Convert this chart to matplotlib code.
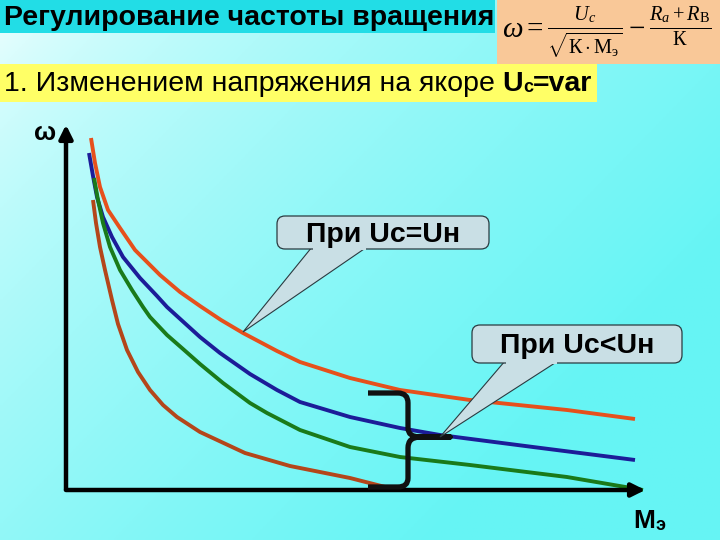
import numpy as np
import matplotlib
matplotlib.use("Agg")
import matplotlib.pyplot as plt
from matplotlib.patches import Rectangle, FancyBboxPatch, Polygon, PathPatch
from matplotlib.path import Path

plt.rcParams['font.family'] = ['Liberation Sans', 'DejaVu Sans']
plt.rcParams['mathtext.fontset'] = 'custom'
plt.rcParams['mathtext.rm'] = 'Liberation Serif'
plt.rcParams['mathtext.it'] = 'Liberation Serif:italic'

# --- данные (условные единицы: M - момент, w - скорость) ---
m_red = [25, 29, 34, 42, 54, 69, 94, 114, 134, 155, 177, 211, 234, 284, 334, 404, 501, 569]
w_red = [352, 327, 303, 280, 262, 240, 215, 198, 184, 170, 157, 139, 128, 112, 100, 90, 80, 71]

m_blue = [23, 27, 31, 37, 46, 57, 74, 91, 101, 134, 154, 174, 184, 211, 234, 284, 334, 374, 467, 569]
w_blue = [337, 314, 293, 273, 253, 233, 212, 194, 183, 153, 137, 123, 116, 100, 88, 73, 62, 55, 43, 30]

m_green = [28, 32, 37, 44, 54, 66, 77, 84, 101, 117, 134, 157, 184, 201, 234, 284, 334, 404, 501, 577]
w_green = [312, 290, 267, 243, 220, 200, 183, 173, 155, 141, 126, 107, 87, 77, 60, 43, 33, 25, 13, 0]

m_brown = [27, 30, 34, 39, 46, 52, 61, 72, 84, 97, 111, 134, 179, 224, 284, 331]
w_brown = [290, 267, 243, 220, 190, 166, 140, 118, 100, 85, 73, 58, 37, 24, 12, 0]

title = "Регулирование частоты вращения"
subtitle = "1. Изменением напряжения на якоре "
label1 = "При Uc=Uн"
label2 = "При Uc<Uн"

fig = plt.figure(figsize=(7.2, 5.4), dpi=100)

# фон слайда (градиент)
bg = fig.add_axes([0, 0, 1, 1], zorder=0)
yy, xx = np.mgrid[0:1:200j, 0:1:200j]
t = np.clip(0.75 * xx + 0.55 * yy, 0, 1) ** 0.6
c0 = np.array([0.97, 1.0, 1.0])
c1 = np.array([0.40, 0.96, 0.96])
img = c0[None, None, :] * (1 - t[..., None]) + c1[None, None, :] * t[..., None]
bg.imshow(img, extent=[0, 720, 540, 0], aspect='auto')
bg.set_xlim(0, 720)
bg.set_ylim(540, 0)
bg.axis('off')

bg.add_patch(Rectangle((0, 0), 495, 33, color='#22dde6', lw=0))
bg.add_patch(Rectangle((497, 0), 223, 64, color='#f9c898', lw=0))
bg.add_patch(Rectangle((0, 64), 597, 38, color='#ffff66', lw=0))

bg.text(4, 18, title, fontsize=20.5, fontweight='bold', va='center', ha='left')

r = fig.canvas.get_renderer()
t1 = bg.text(4, 84, subtitle, fontsize=20.5, va='center', ha='left')
x = t1.get_window_extent(r).x1
t2 = fig.text(x / 720, 1 - 84 / 540, "U", fontsize=20.5, fontweight='bold', va='center')
x = t2.get_window_extent(r).x1
t3 = fig.text(x / 720, 1 - 87 / 540, "c", fontsize=13, fontweight='bold', va='center')
x = t3.get_window_extent(r).x1
fig.text(x / 720, 1 - 84 / 540, "=var", fontsize=20.5, fontweight='bold', va='center')

bg.text(607, 33, r"$\omega = \frac{U_c}{\sqrt{\mathrm{К}\cdot\mathrm{М}_{\mathrm{э}}}} - \frac{R_a + R_{\mathrm{В}}}{\mathrm{К}}$",
        fontsize=21, ha='center', va='center')

# график
ax = fig.add_axes([66 / 720, 50 / 540, 582 / 720, 368 / 540], zorder=2)
ax.set_xlim(0, 582)
ax.set_ylim(0, 368)
ax.patch.set_alpha(0)
ax.axis('off')

lw = 2.8
for m, w, c in [(m_red, w_red, '#e6501c'), (m_blue, w_blue, '#1c1c98'),
                (m_green, w_green, '#1a7a1a'), (m_brown, w_brown, '#b4461a')]:
    ax.plot(m, w, color=c, lw=lw, clip_on=False, solid_joinstyle='round', solid_capstyle='butt')

ax.annotate('', xy=(0, 1.0), xytext=(0, -0.005), xycoords='axes fraction',
            arrowprops=dict(arrowstyle='-|>,head_length=0.8,head_width=0.4', lw=3.2, color='black'))
ax.annotate('', xy=(1.0, 0), xytext=(-0.005, 0), xycoords='axes fraction',
            arrowprops=dict(arrowstyle='-|>,head_length=0.8,head_width=0.4', lw=3.2, color='black'))

# надписи осей
ov = fig.add_axes([0, 0, 1, 1], zorder=3)
ov.set_xlim(0, 720)
ov.set_ylim(540, 0)
ov.patch.set_alpha(0)
ov.axis('off')

ov.text(45, 133, "ω", fontsize=19, fontweight='bold', ha='center', va='center')
ov.text(655, 521, "М", fontsize=19, fontweight='bold', ha='right', va='center')
ov.text(656, 525, "э", fontsize=13, fontweight='bold', ha='left', va='center')

# фигурная скобка
verts = [(368, 393), (398, 393), (408, 393), (408, 403), (408, 428), (408, 437), (420, 437),
         (450, 437), (420, 437), (408, 437), (408, 448), (408, 478), (408, 487), (398, 487), (368, 487)]
codes = [Path.MOVETO, Path.LINETO, Path.CURVE3, Path.CURVE3, Path.LINETO, Path.CURVE3, Path.CURVE3,
         Path.LINETO, Path.LINETO, Path.CURVE3, Path.CURVE3, Path.LINETO, Path.CURVE3, Path.CURVE3, Path.LINETO]
ov.add_patch(PathPatch(Path(verts, codes), fill=False, lw=3.8, color='#111111', capstyle='butt', joinstyle='round'))


def callout(x0, y0, x1, y1, base_a, base_b, tip, text):
    fc = '#c9dfe5'
    ec = '#2a3a40'
    ov.add_patch(Polygon([(base_a, y1 - 2), tip, (base_b, y1 - 2)], closed=True, fc=fc, ec=ec, lw=0.8))
    ov.add_patch(FancyBboxPatch((x0, y0), x1 - x0, y1 - y0, boxstyle='round,pad=0,rounding_size=8',
                                fc=fc, ec=ec, lw=0.9))
    ov.add_patch(Polygon([(base_a + 1, y1 - 3), (base_a + 1, y1 + 1), (base_b - 1, y1 + 1), (base_b - 1, y1 - 3)],
                         closed=True, fc=fc, ec='none'))
    ov.text((x0 + x1) / 2, (y0 + y1) / 2 + 2, text, fontsize=20.5, fontweight='bold', ha='center', va='center')


callout(277, 216, 489, 249, 312, 367, (243, 332), label1)
callout(472, 325, 682, 363, 505, 558, (440, 437), label2)

fig.savefig('out.png', dpi=100)
